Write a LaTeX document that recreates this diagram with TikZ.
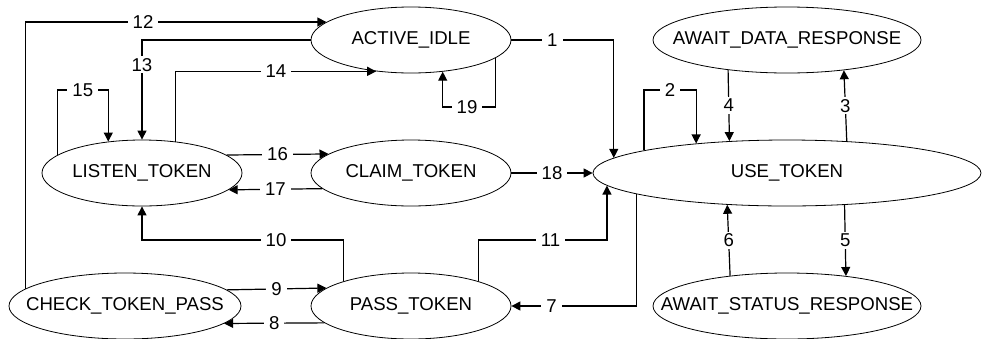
\documentclass[tikz,border=0pt]{standalone}
\usepackage{fontspec}
\setmainfont{Liberation Sans}
\usetikzlibrary{arrows.meta,shapes.geometric}

\newcommand{\stname}[1]{\makebox[0pt]{#1}}

\begin{document}
\begin{tikzpicture}[x=1pt,y=-1pt,>={Triangle[length=9pt,width=9pt]},
    node distance=133pt,font=\fontsize{18.6}{20}\selectfont,
    state/.style={ellipse,draw,line width=0.8pt,minimum height=66pt,inner sep=0pt},
    conn/.style={->,line width=1.2pt},
    lbl/.style={fill=white,inner xsep=5pt,inner ysep=2pt}]
    \useasboundingbox (0,0) rectangle (982,338);

    \node[state,minimum width=200pt] (ai) at (411,40) {\stname{ACTIVE\_IDLE}};
    \node[state,minimum width=200pt] (ct) [below of=ai] {\stname{CLAIM\_TOKEN}};
    \node[state,minimum width=200pt] (pt) [below of=ct] {\stname{PASS\_TOKEN}};
    \node[state,minimum width=200pt] (lt) [node distance=269pt,left of=ct] {\stname{LISTEN\_TOKEN}};
    \node[state,minimum width=232pt] (ctp) [below of=lt,xshift=-17pt] {\stname{CHECK\_TOKEN\_PASS}};
    \node[state,minimum width=388pt] (ut) [node distance=376pt,right of=ct] {\stname{USE\_TOKEN}};
    \node[state,minimum width=268pt] (adr) [above of=ut] {\stname{AWAIT\_DATA\_RESPONSE}};
    \node[state,minimum width=268pt] (asr) [below of=ut] {\stname{AWAIT\_STATUS\_RESPONSE}};

    \draw[conn] (ai.east) -| node[lbl,pos=0.2] {1} (ut.175.4);
    \draw[conn] (ut.171.1) |- node[lbl,pos=0.75] {2} (ut.162.5 |- 0,90) -- (ut.162.5);
    \draw[conn] (ut.28.5) -- node[lbl] {3} (adr.332.8);
    \draw[conn] (adr.207.2) -- node[lbl] {4} (ut.151.5);
    \draw[conn] (ut.331.5) -- node[lbl] {5} (asr.27.2);
    \draw[conn] (asr.152.8) -- node[lbl] {6} (ut.208.5);
    \draw[conn] (ut.188.9) |- node[lbl,pos=0.84] {7} (pt.east);
    \draw[conn] (pt.191.2) -- node[lbl] {8} (ctp.350.3);
    \draw[conn] (ctp.9.7) -- node[lbl] {9} (pt.168.8);
    \draw[conn] (pt.160.4) |- node[lbl,pos=0.667] {10} (lt.south |- 0,240) -- (lt.south);
    \draw[conn] (pt.20.6) |- node[lbl,pos=0.78] {11} (ut.184.6 |- 0,240) -- (ut.184.6);
    \draw[conn] (ctp.170.5) |- node[lbl,pos=0.695] {12} (ai.168.8);
    \draw[conn] (ai.west) -| node[lbl,pos=0.625] {13} (lt.north);
    \draw[conn] (lt.43.4) |- node[lbl,pos=0.75] {14} (ai.222.4);
    \draw[conn] (lt.168) |- node[lbl,pos=0.75] {15} (lt.137.6 |- 0,90) -- (lt.137.6);
    \draw[conn] (lt.12.1) -- node[lbl] {16} (ct.167.9);
    \draw[conn] (ct.190.3) -- node[lbl] {17} (lt.349.7);
    \draw[conn] (ct.east) -- node[lbl] {18} (ut.west);
    \draw[conn] (ai.348) |- node[lbl,pos=0.77] {19} (ai.315.7 |- 0,107) -- (ai.315.7);
\end{tikzpicture}
\end{document}
